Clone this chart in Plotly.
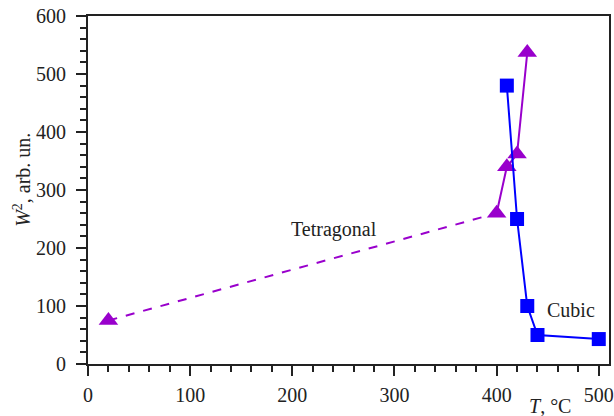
import plotly.graph_objects as go

# Tetragonal phase (triangles)
tet_T = [20, 400, 410, 420, 430]
tet_W2 = [75, 260, 340, 362, 537]
# Cubic phase (squares)
cub_T = [410, 420, 430, 440, 500]
cub_W2 = [480, 250, 100, 50, 43]

purple = "#9900CC"
blue = "#0000FF"
font = "Liberation Serif"
fs = 20

fig = go.Figure()
# dashed segment between first two tetragonal points
fig.add_trace(go.Scatter(x=tet_T[:2], y=tet_W2[:2], mode="lines",
                         line=dict(color=purple, width=2, dash="dash"),
                         showlegend=False, hoverinfo="skip"))
fig.add_trace(go.Scatter(x=tet_T[1:], y=tet_W2[1:], mode="lines",
                         line=dict(color=purple, width=2),
                         showlegend=False, hoverinfo="skip"))
fig.add_trace(go.Scatter(x=tet_T, y=tet_W2, mode="markers",
                         marker=dict(symbol="triangle-up", size=17, color=purple,
                                     line=dict(width=0)),
                         showlegend=False))
fig.add_trace(go.Scatter(x=cub_T, y=cub_W2, mode="lines+markers",
                         line=dict(color=blue, width=2),
                         marker=dict(symbol="square", size=14, color=blue,
                                     line=dict(width=0)),
                         showlegend=False))

fig.add_annotation(x=241, y=232, text="Tetragonal", showarrow=False,
                   font=dict(family=font, size=fs, color="#222"))
fig.add_annotation(x=473, y=93, text="Cubic", showarrow=False,
                   font=dict(family=font, size=fs, color="#222"))
fig.add_annotation(xref="paper", yref="paper", x=0.887, y=-0.122,
                   text="<i>T</i>, °C", showarrow=False,
                   xanchor="center", yanchor="middle",
                   font=dict(family=font, size=fs, color="#222"))
fig.add_annotation(xref="paper", yref="paper", x=-0.128, y=0.53,
                   text="<i>W</i><sup>2</sup>, arb. un.", showarrow=False,
                   textangle=-90, xanchor="center", yanchor="middle",
                   font=dict(family=font, size=fs, color="#222"))

axis_common = dict(showgrid=False, zeroline=False, showline=True, linecolor="#222",
                   linewidth=2, mirror=True, ticks="outside", ticklen=10, tickwidth=1.5,
                   tickcolor="#222", automargin=False,
                   tickfont=dict(family=font, size=fs, color="#222"))

fig.update_xaxes(range=[0, 510], dtick=100, ticklabelstandoff=2,
                 minor=dict(dtick=20, ticks="outside", ticklen=6, tickwidth=1.5,
                            tickcolor="#222"),
                 **axis_common)
fig.update_yaxes(range=[0, 600], dtick=100, ticklabelstandoff=6,
                 minor=dict(dtick=20, ticks="outside", ticklen=6, tickwidth=1.5,
                            tickcolor="#222"),
                 **axis_common)

fig.update_layout(width=614, height=416, margin=dict(l=88, r=5, t=16, b=52),
                  plot_bgcolor="white", paper_bgcolor="white")
fig.write_html("out.html")
